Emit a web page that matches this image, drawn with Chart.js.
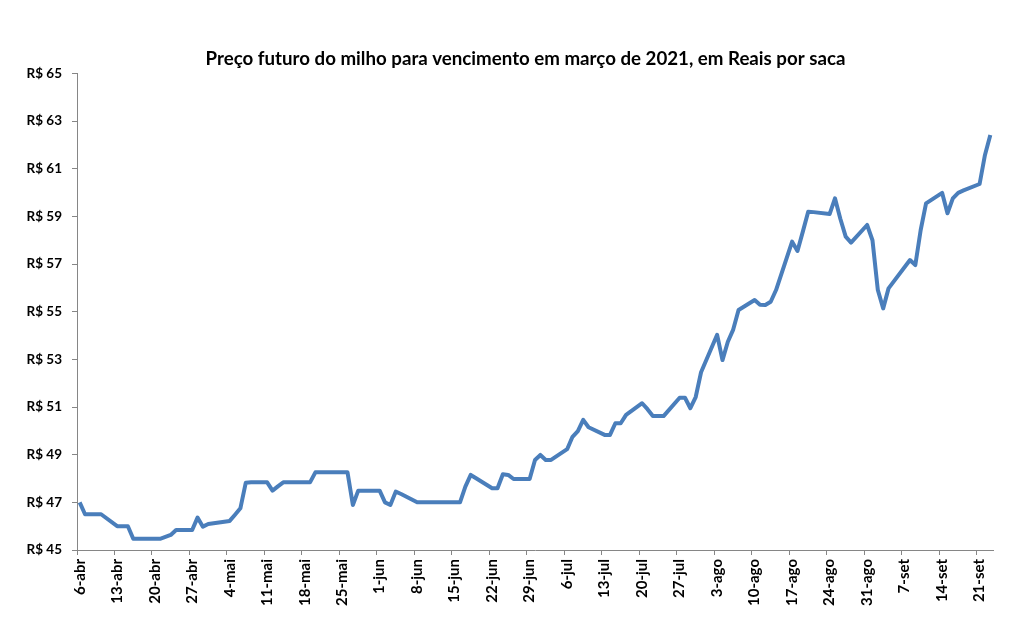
<!DOCTYPE html>
<html>
<head>
<meta charset="utf-8">
<script src="https://cdn.jsdelivr.net/npm/chart.js@4.4.1/dist/chart.umd.min.js"></script>
<style>
  body { margin: 0; background: #fff; }
</style>
</head>
<body>
<canvas id="chart" width="1015" height="632"></canvas>
<script>
// Data (trading days; weekends are bridged by the line)
const dates = [
  '2020-04-06','2020-04-07','2020-04-08','2020-04-09','2020-04-10',
  '2020-04-13','2020-04-14','2020-04-15','2020-04-16','2020-04-17',
  '2020-04-20','2020-04-21','2020-04-22','2020-04-23','2020-04-24',
  '2020-04-27','2020-04-28','2020-04-29','2020-04-30',
  '2020-05-04','2020-05-05','2020-05-06','2020-05-07','2020-05-08',
  '2020-05-11','2020-05-12','2020-05-13','2020-05-14','2020-05-15',
  '2020-05-18','2020-05-19','2020-05-20','2020-05-21','2020-05-22',
  '2020-05-25','2020-05-26','2020-05-27','2020-05-28','2020-05-29',
  '2020-06-01','2020-06-02','2020-06-03','2020-06-04','2020-06-05',
  '2020-06-08','2020-06-09','2020-06-10','2020-06-12',
  '2020-06-15','2020-06-16','2020-06-17','2020-06-18','2020-06-19',
  '2020-06-22','2020-06-23','2020-06-24','2020-06-25','2020-06-26',
  '2020-06-29','2020-06-30','2020-07-01','2020-07-02','2020-07-03',
  '2020-07-06','2020-07-07','2020-07-08','2020-07-09','2020-07-10',
  '2020-07-13','2020-07-14','2020-07-15','2020-07-16','2020-07-17',
  '2020-07-20','2020-07-21','2020-07-22','2020-07-23','2020-07-24',
  '2020-07-27','2020-07-28','2020-07-29','2020-07-30','2020-07-31',
  '2020-08-03','2020-08-04','2020-08-05','2020-08-06','2020-08-07',
  '2020-08-10','2020-08-11','2020-08-12','2020-08-13','2020-08-14',
  '2020-08-17','2020-08-18','2020-08-19','2020-08-20','2020-08-21',
  '2020-08-24','2020-08-25','2020-08-26','2020-08-27','2020-08-28',
  '2020-08-31','2020-09-01','2020-09-02','2020-09-03','2020-09-04',
  '2020-09-08','2020-09-09','2020-09-10','2020-09-11',
  '2020-09-14','2020-09-15','2020-09-16','2020-09-17','2020-09-18',
  '2020-09-21','2020-09-22','2020-09-23'
];
const prices = [
  47.00,46.50,46.50,46.50,46.50,
  46.00,46.00,46.00,45.47,45.47,
  45.47,45.47,45.55,45.63,45.84,
  45.84,46.36,45.98,46.09,
  46.22,46.48,46.75,47.82,47.84,
  47.84,47.49,47.67,47.84,47.84,
  47.84,47.84,48.26,48.26,48.26,
  48.26,48.26,46.89,47.49,47.49,
  47.49,47.00,46.89,47.45,47.35,
  47.00,47.00,47.00,47.00,
  47.00,47.00,47.66,48.15,48.01,
  47.59,47.59,48.18,48.15,47.98,
  47.98,48.78,48.99,48.78,48.78,
  49.23,49.75,49.99,50.46,50.15,
  49.83,49.83,50.32,50.32,50.67,
  51.16,50.91,50.62,50.62,50.62,
  51.39,51.39,50.95,51.42,52.46,
  54.03,52.97,53.74,54.25,55.07,
  55.49,55.29,55.28,55.42,55.91,
  57.94,57.55,58.36,59.20,59.18,
  59.10,59.76,58.90,58.15,57.90,
  58.64,58.00,55.91,55.14,55.98,
  57.17,56.96,58.43,59.55,
  59.99,59.13,59.76,59.99,60.09,
  60.36,61.58,62.42
];
const tickLabels = [
  '6-abr','13-abr','20-abr','27-abr','4-mai','11-mai','18-mai','25-mai',
  '1-jun','8-jun','15-jun','22-jun','29-jun','6-jul','13-jul','20-jul',
  '27-jul','3-ago','10-ago','17-ago','24-ago','31-ago','7-set','14-set','21-set'
];
const yTicks = [45,47,49,51,53,55,57,59,61,63,65];

// one category per calendar day
const DAY = 86400000;
const toUTC = s => { const p = s.split('-'); return Date.UTC(+p[0], p[1]-1, +p[2]); };
const start = toUTC(dates[0]);
const nDays = (toUTC(dates[dates.length-1]) - start) / DAY + 1;
const labels = [];
const series = [];
for (let i = 0; i < nDays; i++) { labels.push(new Date(start + i*DAY).toISOString().slice(0,10)); series.push(null); }
dates.forEach((d, i) => { series[(toUTC(d) - start) / DAY] = prices[i]; });

const font = "Lato, 'Open Sans', sans-serif";
const axisColor = '#868686';

// shift the title block so it centres a bit right of the canvas centre
const titleShift = {
  id: 'titleShift',
  afterLayout(chart) {
    if (chart.titleBlock) { chart.titleBlock.left = 58; }
  }
};

new Chart(document.getElementById('chart'), {
  type: 'line',
  data: {
    labels: labels,
    datasets: [{
      data: series,
      borderColor: '#4a7ebb',
      borderWidth: 4,
      borderJoinStyle: 'round',
      pointRadius: 0,
      tension: 0,
      spanGaps: true,
      fill: false
    }]
  },
  plugins: [titleShift],
  options: {
    responsive: false,
    animation: false,
    devicePixelRatio: 1,
    layout: { padding: { left: 0, right: 22, top: 0, bottom: 0 } },
    plugins: {
      legend: { display: false },
      tooltip: { enabled: false },
      title: {
        display: true,
        text: 'Preço futuro do milho para vencimento em março de 2021, em Reais por saca',
        color: '#000',
        font: { family: font, size: 18.7, weight: 'bold', lineHeight: 1.2 },
        padding: { top: 48, bottom: 3 }
      }
    },
    scales: {
      x: {
        type: 'category',
        offset: true,
        afterFit: s => { s.height = 82; },
        grid: {
          offset: true,
          drawOnChartArea: false,
          tickLength: 5,
          color: c => (c.index % 7 === 0 ? axisColor : 'rgba(0,0,0,0)')
        },
        border: { display: true, color: axisColor, width: 1 },
        ticks: {
          autoSkip: false,
          maxRotation: 90,
          minRotation: 90,
          padding: 4,
          color: '#000',
          font: { family: font, size: 15, weight: 'bold' },
          callback: (v, i) => (i % 7 === 0 ? tickLabels[i / 7] : '')
        }
      },
      y: {
        min: 45,
        max: 65,
        afterFit: s => { s.width = 77; },
        afterBuildTicks: s => { s.ticks = yTicks.map(v => ({ value: v })); },
        grid: { drawOnChartArea: false, tickLength: 5, color: axisColor },
        border: { display: true, color: axisColor, width: 1 },
        ticks: {
          padding: 10,
          color: '#000',
          font: { family: font, size: 13.5, weight: 'bold' },
          callback: v => 'R$ ' + v
        }
      }
    }
  }
});
</script>
</body>
</html>
